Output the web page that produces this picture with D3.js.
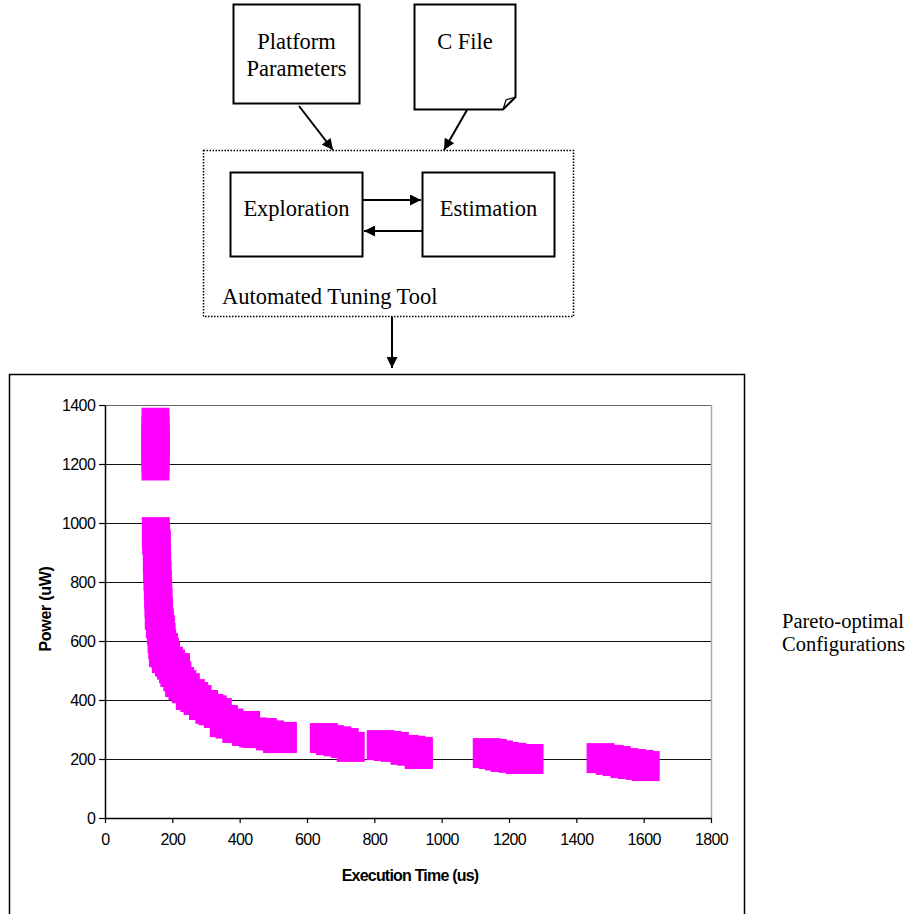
<!DOCTYPE html>
<html>
<head>
<meta charset="utf-8">
<script src="https://cdn.jsdelivr.net/npm/d3@7/dist/d3.min.js"></script>
<style>
  html, body { margin: 0; padding: 0; background: #fff; }
  svg { display: block; }
</style>
</head>
<body>
<div id="chart"></div>
<script>
// ---------------- DATA ----------------
const xTicks = [0, 200, 400, 600, 800, 1000, 1200, 1400, 1600, 1800];
const yTicks = [0, 200, 400, 600, 800, 1000, 1200, 1400];

// Execution time (us) and power (uW) of pareto-optimal configurations
const execTime = [
  150, 150, 150, 150, 150, 150, 150,
  151, 152, 154, 154, 155, 156, 157, 158, 159, 160, 160, 163, 166, 168, 170,
  172, 175, 178, 181, 181, 190, 196, 202, 206, 211, 215, 220, 223, 230, 240,
  252, 255, 265, 275, 291, 294, 310, 320, 335, 353, 353, 370, 390, 419, 419,
  440, 451, 469, 490, 511, 528, 528,
  650, 668, 690, 712, 730,
  819, 840, 861, 890, 910, 932, 932,
  1134, 1152, 1170, 1187, 1210, 1232, 1261,
  1472, 1499, 1520, 1543, 1565, 1588, 1606
];
const power = [
  1340, 1315, 1290, 1270, 1245, 1220, 1195,
  969, 945, 925, 881, 850, 820, 790, 760, 730, 698, 688, 660, 637, 610, 590,
  563, 576, 560, 546, 542, 530, 520, 508, 495, 508, 480, 461, 461, 450, 440,
  417, 420, 410, 400, 383, 383, 370, 365, 356, 325, 332, 320, 305, 295, 312,
  290, 288, 288, 280, 271, 275, 271,
  271, 264, 260, 254, 241,
  247, 244, 241, 231, 228, 224, 217,
  220, 217, 212, 207, 204, 200, 200,
  203, 197, 193, 186, 183, 180, 176
];

const xTitle = "Execution Time (us)";
const yTitle = "Power (uW)";
const sideLabel = ["Pareto-optimal", "Configurations"];
const platformLabel = ["Platform", "Parameters"];
const cFileLabel = "C File";
const exploreLabel = "Exploration";
const estimateLabel = "Estimation";
const toolLabel = "Automated Tuning Tool";

// ---------------- DRAW ----------------
const W = 912, H = 914;
const svg = d3.select("#chart").append("svg")
  .attr("width", W).attr("height", H)
  .attr("viewBox", `0 0 ${W} ${H}`);
svg.append("rect").attr("width", W).attr("height", H).attr("fill", "#fff");

const serif = "'Liberation Serif', 'Times New Roman', serif";
const sans = "'Liberation Sans', Arial, sans-serif";
const dFont = 22.5;

// arrowhead marker
const defs = svg.append("defs");
defs.append("marker")
  .attr("id", "ah")
  .attr("viewBox", "0 0 10 10")
  .attr("refX", 10).attr("refY", 5)
  .attr("markerWidth", 12).attr("markerHeight", 11)
  .attr("markerUnits", "userSpaceOnUse")
  .attr("orient", "auto")
  .append("path").attr("d", "M0,0 L10,5 L0,10 Z").attr("fill", "#000");

const diag = svg.append("g");

// Platform Parameters box
diag.append("rect").attr("x", 233.5).attr("y", 4.5).attr("width", 126).attr("height", 99)
  .attr("fill", "#fff").attr("stroke", "#000").attr("stroke-width", 2);
diag.append("text").attr("x", 296.5).attr("y", 49).attr("text-anchor", "middle")
  .attr("font-family", serif).attr("font-size", dFont).text(platformLabel[0]);
diag.append("text").attr("x", 296.5).attr("y", 76).attr("text-anchor", "middle")
  .attr("font-family", serif).attr("font-size", dFont).text(platformLabel[1]);

// C File (document with folded corner)
diag.append("path")
  .attr("d", "M414.5,4.5 L515.5,4.5 L515.5,97 L503,109.5 L414.5,109.5 Z")
  .attr("fill", "#fff").attr("stroke", "#000").attr("stroke-width", 2);
diag.append("path")
  .attr("d", "M503,109.5 L506,100 L515.5,97")
  .attr("fill", "none").attr("stroke", "#000").attr("stroke-width", 1.2);
diag.append("text").attr("x", 465).attr("y", 49).attr("text-anchor", "middle")
  .attr("font-family", serif).attr("font-size", dFont).text(cFileLabel);

// arrows into tool box
diag.append("line").attr("x1", 299).attr("y1", 106).attr("x2", 333).attr("y2", 150)
  .attr("stroke", "#000").attr("stroke-width", 2).attr("marker-end", "url(#ah)");
diag.append("line").attr("x1", 467).attr("y1", 110).attr("x2", 444).attr("y2", 150)
  .attr("stroke", "#000").attr("stroke-width", 2).attr("marker-end", "url(#ah)");

// dotted tool box
diag.append("rect").attr("x", 203.5).attr("y", 150.5).attr("width", 370).attr("height", 166)
  .attr("fill", "none").attr("stroke", "#000").attr("stroke-width", 1.5)
  .attr("stroke-dasharray", "1.5,1.5");

// Exploration / Estimation boxes
diag.append("rect").attr("x", 230.5).attr("y", 172.5).attr("width", 132).attr("height", 84)
  .attr("fill", "#fff").attr("stroke", "#000").attr("stroke-width", 2);
diag.append("text").attr("x", 296.5).attr("y", 216).attr("text-anchor", "middle")
  .attr("font-family", serif).attr("font-size", dFont).text(exploreLabel);
diag.append("rect").attr("x", 422.5).attr("y", 172.5).attr("width", 132).attr("height", 84)
  .attr("fill", "#fff").attr("stroke", "#000").attr("stroke-width", 2);
diag.append("text").attr("x", 488.5).attr("y", 216).attr("text-anchor", "middle")
  .attr("font-family", serif).attr("font-size", dFont).text(estimateLabel);

diag.append("line").attr("x1", 363).attr("y1", 200).attr("x2", 421).attr("y2", 200)
  .attr("stroke", "#000").attr("stroke-width", 2).attr("marker-end", "url(#ah)");
diag.append("line").attr("x1", 422).attr("y1", 231).attr("x2", 364).attr("y2", 231)
  .attr("stroke", "#000").attr("stroke-width", 2).attr("marker-end", "url(#ah)");

diag.append("text").attr("x", 222).attr("y", 304)
  .attr("font-family", serif).attr("font-size", dFont).text(toolLabel);

// arrow down to chart
diag.append("line").attr("x1", 392).attr("y1", 317).attr("x2", 392).attr("y2", 368)
  .attr("stroke", "#000").attr("stroke-width", 2).attr("marker-end", "url(#ah)");

// chart frame
svg.append("rect").attr("x", 9.5).attr("y", 374.5).attr("width", 735).attr("height", 600)
  .attr("fill", "#fff").attr("stroke", "#000").attr("stroke-width", 1.5);

// side label
svg.append("text").attr("x", 782).attr("y", 628)
  .attr("font-family", serif).attr("font-size", 20.5).text(sideLabel[0]);
svg.append("text").attr("x", 782).attr("y", 651)
  .attr("font-family", serif).attr("font-size", 20.5).text(sideLabel[1]);

// ---------------- CHART ----------------
const x = d3.scaleLinear().domain([0, 1800]).range([105, 711]);
const y = d3.scaleLinear().domain([0, 1400]).range([818, 405]);

const plot = svg.append("g");

// gridlines
plot.append("g").selectAll("line").data(yTicks.filter(d => d > 0)).join("line")
  .attr("x1", x(0)).attr("x2", x(1800))
  .attr("y1", d => Math.round(y(d)) + 0.5).attr("y2", d => Math.round(y(d)) + 0.5)
  .attr("stroke", d => d === 1400 ? "#666" : "#111").attr("stroke-width", 1.2);

// right plot border
plot.append("line")
  .attr("x1", Math.round(x(1800)) + 0.5).attr("x2", Math.round(x(1800)) + 0.5)
  .attr("y1", y(1400)).attr("y2", y(0))
  .attr("stroke", "#aaa").attr("stroke-width", 1.5);

// points (square markers)
const pts = execTime.map((t, i) => ({ t, p: power[i] }));
plot.append("g").selectAll("rect").data(pts).join("rect")
  .attr("x", d => x(d.t) - 14).attr("y", d => y(d.p) - 15)
  .attr("width", 28).attr("height", 30)
  .attr("fill", "#FF00FF");

// axes
const xAxis = d3.axisBottom(x).tickValues(xTicks).tickSize(5).tickSizeOuter(0).tickFormat(d3.format("d"));
const yAxis = d3.axisLeft(y).tickValues(yTicks).tickSize(6).tickSizeOuter(0).tickFormat(d3.format("d"));

const gx = svg.append("g").attr("transform", `translate(0,${y(0)})`).call(xAxis);
const gy = svg.append("g").attr("transform", `translate(${x(0)},0)`).call(yAxis);
[gx, gy].forEach(g => {
  g.select(".domain").attr("stroke", "#000").attr("stroke-width", 1.5);
  g.selectAll(".tick line").attr("stroke", "#000").attr("stroke-width", 1.2);
  g.selectAll(".tick text").attr("fill", "#000")
    .attr("font-family", sans).attr("font-size", 16).attr("letter-spacing", "-0.6px");
});
gx.selectAll(".tick text").attr("dy", "1.2em");
gy.selectAll(".tick text").attr("dx", "-0.05em");

// axis titles
svg.append("text").attr("x", 410).attr("y", 881).attr("text-anchor", "middle")
  .attr("font-family", sans).attr("font-weight", "bold").attr("font-size", 16)
  .attr("letter-spacing", "-0.8px").text(xTitle);
svg.append("text").attr("transform", `translate(51,609) rotate(-90)`).attr("text-anchor", "middle")
  .attr("font-family", sans).attr("font-weight", "bold").attr("font-size", 16)
  .attr("letter-spacing", "-0.3px").text(yTitle);
</script>
</body>
</html>
